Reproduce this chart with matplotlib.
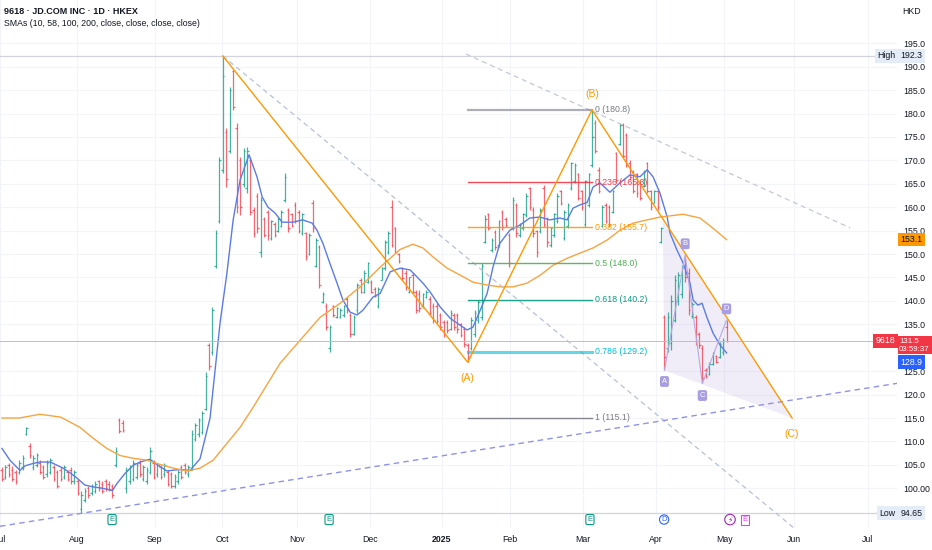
import numpy as np
import matplotlib.pyplot as plt
from matplotlib.transforms import blended_transform_factory
from matplotlib.patches import Polygon

plt.rcParams['font.family'] = ['Liberation Sans Narrow', 'Liberation Sans', 'DejaVu Sans']

# daily OHLC, 9618 JD.COM, Jul 2024 - May 2025 (one entry per trading day)
opens = [
    104.0, 102.5, 105.0, 104.0, 103.5, 103.5, 104.5, 111.5, 109.0, 104.5,
    105.0, 105.5, 104.5, 103.0, 103.5, 104.5, 103.5, 104.0, 102.5, 103.5,
    104.0, 101.5, 101.5, 95.5, 97.5, 100.0, 99.0, 99.5, 101.5, 101.0,
    101.5, 101.0, 100.5, 105.0, 114.5, 114.0, 100.0, 101.5, 102.0, 102.5,
    105.5, 102.0, 101.5, 103.5, 105.5, 103.0, 104.5, 103.0, 103.5, 103.0,
    100.5, 101.5, 104.5, 105.0, 103.0, 104.0, 110.5, 111.5, 112.0, 117.0,
    130.5, 129.0, 147.5, 157.0, 168.0, 176.0, 172.0, 189.0, 177.0, 170.0,
    165.0, 164.0, 170.0, 159.5, 162.5, 150.5, 157.5, 159.0, 153.5, 156.5,
    155.0, 156.0, 161.5, 159.5, 158.5, 160.5, 159.0, 154.5, 154.5, 150.0,
    161.0, 147.5, 151.5, 139.8, 139.0, 130.0, 139.0, 136.5, 136.5, 137.0,
    140.5, 137.0, 133.0, 138.0, 144.5, 142.0, 144.0, 144.0, 142.5, 139.0,
    144.5, 147.0, 150.5, 160.0, 155.5, 150.0, 147.0, 146.0, 142.0, 145.5,
    142.0, 141.5, 139.0, 140.8, 140.5, 139.0, 139.0, 137.0, 135.5, 135.5,
    134.0, 137.0, 137.0, 135.0, 134.0, 130.5, 130.0, 133.0, 136.0, 136.5,
    152.5, 158.5, 150.8, 154.8, 152.0, 159.0, 157.5, 154.0, 155.5, 160.5,
    154.0, 155.5, 158.3, 164.0, 159.5, 155.0, 155.0, 164.0, 157.5, 152.0,
    154.0, 157.0, 163.5, 153.5, 156.0, 164.0, 165.5, 167.0, 163.5, 156.5,
    160.5, 169.0, 178.0, 168.0, 156.0, 160.5, 160.0, 159.0, 171.5, 173.5,
    177.5, 175.5, 169.5, 167.5, 167.0, 165.5, 164.5, 169.5, 163.5, 161.0,
    163.5, 152.5, 136.5, 130.0, 131.0, 136.0, 140.0, 141.5, 149.0, 146.0,
    136.8, 136.5, 133.0, 130.0, 125.3, 124.5, 126.6, 128.2, 128.0, 129.0,
    134.5,
]
highs = [
    104.5, 105.0, 105.5, 104.8, 104.0, 106.0, 107.0, 113.0, 109.6, 107.0,
    107.5, 106.0, 105.0, 106.0, 106.5, 105.0, 104.0, 104.5, 105.0, 104.0,
    104.5, 104.0, 102.0, 99.5, 100.0, 100.5, 101.0, 101.5, 101.8, 101.5,
    102.0, 101.5, 101.0, 108.8, 115.0, 114.5, 104.5, 105.0, 106.0, 105.5,
    106.0, 105.0, 104.5, 108.8, 106.0, 105.5, 105.0, 105.5, 104.0, 103.5,
    103.0, 104.0, 105.0, 105.3, 105.0, 112.4, 113.9, 115.0, 116.5, 124.8,
    131.0, 138.7, 155.1, 170.7, 192.3, 177.0, 185.7, 189.3, 178.0, 170.7,
    172.6, 172.9, 170.7, 160.0, 163.0, 162.2, 157.9, 159.4, 157.3, 156.8,
    157.9, 159.4, 167.3, 159.8, 158.8, 161.1, 159.4, 158.8, 154.7, 154.5,
    161.5, 153.4, 151.9, 141.9, 139.5, 134.8, 139.1, 138.7, 138.5, 139.1,
    140.8, 137.4, 137.0, 143.8, 144.9, 146.6, 148.3, 144.4, 143.0, 143.0,
    147.2, 153.0, 155.0, 161.5, 155.8, 150.2, 147.2, 146.6, 145.1, 145.9,
    142.3, 142.3, 141.7, 142.3, 141.0, 139.5, 139.5, 137.4, 135.9, 135.9,
    138.0, 137.4, 137.4, 135.3, 134.4, 131.0, 136.5, 138.0, 140.2, 148.1,
    158.3, 158.8, 153.4, 155.1, 157.3, 159.4, 157.9, 154.5, 162.2, 160.9,
    156.6, 158.8, 163.0, 164.3, 160.0, 155.1, 159.8, 164.7, 157.9, 155.8,
    158.8, 163.0, 163.7, 159.4, 161.0, 169.7, 169.4, 167.3, 163.7, 165.8,
    167.3, 180.8, 178.6, 168.6, 160.5, 160.9, 160.5, 163.7, 171.8, 178.0,
    178.0, 175.9, 170.0, 168.0, 167.3, 165.8, 168.0, 169.7, 163.7, 163.7,
    163.7, 155.8, 137.0, 137.6, 141.2, 145.5, 146.2, 147.6, 149.8, 147.0,
    139.7, 137.0, 133.3, 130.6, 125.6, 126.9, 129.1, 128.4, 131.2, 132.0,
    135.9,
]
lows = [
    101.5, 102.0, 102.5, 101.5, 101.0, 103.0, 104.0, 111.3, 106.4, 104.0,
    104.5, 103.0, 102.0, 102.5, 103.0, 101.5, 100.0, 101.5, 102.0, 101.5,
    101.0, 101.0, 98.5, 94.65, 97.0, 98.0, 98.5, 99.0, 99.5, 99.0,
    99.5, 99.5, 98.0, 104.5, 111.7, 112.0, 99.0, 101.0, 101.5, 102.0,
    102.5, 101.5, 101.0, 103.0, 102.0, 102.5, 102.0, 102.5, 100.5, 100.0,
    100.0, 101.0, 102.0, 103.0, 102.5, 103.8, 110.0, 110.9, 111.5, 116.7,
    125.2, 128.4, 147.0, 156.6, 167.3, 164.3, 171.6, 180.8, 158.8, 158.3,
    164.3, 163.0, 158.3, 153.6, 154.5, 149.4, 153.6, 153.0, 153.0, 153.6,
    154.7, 155.8, 161.1, 154.7, 155.8, 156.6, 154.5, 154.1, 148.7, 149.8,
    154.7, 147.2, 142.7, 139.5, 133.8, 129.1, 136.5, 136.3, 136.3, 136.5,
    137.4, 132.3, 132.7, 137.4, 141.7, 141.7, 143.8, 141.7, 140.8, 138.5,
    144.4, 146.6, 150.0, 151.5, 150.2, 148.1, 144.4, 142.3, 141.7, 141.7,
    137.4, 137.6, 138.5, 140.6, 137.0, 135.3, 135.3, 133.8, 132.3, 133.1,
    133.8, 133.8, 133.1, 132.3, 130.1, 126.9, 129.5, 132.3, 135.3, 135.9,
    152.3, 155.1, 150.4, 150.9, 151.5, 155.1, 155.8, 147.2, 155.1, 153.6,
    153.6, 155.1, 157.9, 159.4, 153.6, 149.4, 154.5, 155.8, 151.5, 151.5,
    153.6, 156.6, 160.5, 153.0, 155.5, 163.7, 165.2, 161.5, 159.4, 155.8,
    160.0, 168.6, 171.6, 163.0, 155.8, 156.6, 155.8, 158.8, 165.2, 173.3,
    170.7, 168.6, 165.8, 163.0, 162.2, 161.5, 164.3, 163.0, 159.4, 160.9,
    159.4, 152.3, 125.2, 129.1, 129.5, 135.5, 139.1, 140.6, 144.0, 137.0,
    136.3, 130.6, 129.9, 122.4, 123.5, 124.1, 126.3, 126.7, 127.8, 128.4,
    131.2,
]
closes = [
    102.0, 104.5, 103.0, 102.0, 101.5, 105.5, 106.5, 112.8, 107.0, 106.5,
    107.0, 103.5, 102.5, 105.5, 106.0, 102.0, 100.5, 102.0, 104.5, 102.0,
    101.5, 103.5, 99.0, 98.5, 99.5, 98.5, 100.5, 101.0, 100.0, 99.5,
    100.0, 99.8, 98.5, 108.0, 112.2, 112.5, 104.0, 104.5, 105.5, 105.0,
    103.0, 104.5, 104.0, 108.0, 102.5, 105.0, 102.5, 105.0, 101.0, 100.5,
    102.5, 103.5, 102.5, 103.5, 104.5, 111.5, 113.5, 114.5, 116.0, 124.0,
    126.0, 138.0, 154.5, 170.0, 188.0, 166.0, 185.0, 181.5, 160.0, 160.0,
    172.0, 172.0, 159.0, 154.5, 155.5, 161.5, 154.0, 154.0, 157.0, 154.0,
    157.5, 159.0, 166.5, 155.5, 156.0, 157.0, 155.0, 158.5, 149.5, 154.0,
    155.5, 153.0, 143.5, 141.5, 134.5, 134.5, 137.0, 138.5, 138.0, 139.0,
    138.0, 133.0, 136.5, 143.5, 142.0, 146.0, 148.0, 142.0, 141.0, 142.5,
    147.0, 152.5, 154.5, 152.0, 150.5, 148.5, 144.8, 143.0, 145.0, 142.0,
    138.0, 138.5, 141.5, 142.0, 137.5, 136.0, 135.8, 134.5, 133.0, 133.8,
    137.5, 134.5, 134.0, 132.8, 130.8, 127.8, 136.0, 137.5, 139.8, 147.5,
    157.5, 155.5, 153.0, 151.5, 157.0, 155.8, 156.2, 148.0, 161.5, 154.5,
    156.2, 158.5, 162.5, 160.0, 154.5, 150.5, 159.5, 156.5, 152.5, 155.5,
    158.5, 162.5, 161.0, 159.0, 160.5, 169.5, 169.0, 162.0, 160.0, 165.5,
    167.0, 175.0, 172.0, 163.5, 160.0, 157.0, 156.5, 163.5, 165.8, 177.5,
    171.0, 169.0, 166.5, 163.5, 163.0, 162.0, 167.5, 163.5, 160.0, 163.5,
    160.0, 155.5, 128.0, 136.5, 140.0, 144.5, 145.5, 147.0, 145.0, 138.0,
    139.3, 131.5, 130.5, 123.5, 124.0, 126.5, 128.8, 127.0, 130.8, 131.5,
    131.5,
]

# moving averages (bar index, value)
sma10_idx = [0, 2.3, 5.2, 6.7, 9, 11, 14, 16, 17.7, 19.7, 21.7, 24, 26.4, 28.4, 30.4, 32,
             33.3, 35.7, 38, 40, 42.9, 45, 47.8, 51.6, 54.5, 57.4, 60.3, 63.2, 65.2, 67,
             69, 71.6, 73.9, 75.4, 77.1, 79.1, 81.2, 84.3, 87.2, 89.9, 91.3, 93, 95, 97.1,
             98.8, 100.9, 102.9, 104.6, 107.5, 109.6, 111, 112.5, 115.4, 118.3, 120.3, 122,
             124, 127, 129.9, 132.8, 134.8, 136.5, 138.6, 140.6, 142.3, 144.3, 147.2, 150.1,
             153, 155.9, 158.8, 161.7, 163.8, 165.5, 167.5, 169.6, 171.3, 173.3, 176.2,
             179.1, 182, 184.9, 187, 188.7, 190.7, 192.8, 193.6, 195.6, 197.4, 199.4,
             200.3, 201.7, 202.9, 204.3, 206.1, 208.1, 210]
sma10 = [108.5, 106.0, 103.8, 104.8, 105.3, 105.6, 105.6, 104.9, 104.3, 103.3, 102.2, 100.7,
         100.3, 100.1, 99.8, 99.5, 101.0, 103.2, 104.9, 105.6, 106.2, 105.0, 103.7, 104.0,
         103.8, 106.3, 115.0, 135.3, 146.0, 157.3, 165.8, 171.2, 166.5, 162.2, 160.0, 158.8,
         156.8, 156.8, 157.3, 156.6, 155.1, 152.3, 148.1, 143.8, 140.2, 137.6, 137.0, 138.0,
         140.8, 141.6, 143.8, 146.2, 147.0, 146.6, 145.1, 143.8, 142.0, 138.7, 136.3, 134.8,
         133.8, 134.4, 138.0, 141.6, 147.2, 152.3, 155.1, 156.2, 157.7, 157.9, 157.3, 157.7,
         157.3, 159.8, 160.5, 161.0, 164.3, 165.2, 163.2, 165.2, 166.9, 166.5, 168.0, 166.5,
         163.0, 157.9, 154.5, 150.9, 148.1, 143.8, 140.2, 139.1, 139.5, 136.5, 133.1, 130.6,
         128.9]
sma58_idx = [0, 5, 11, 17, 22.6, 26.4, 30.4, 34.2, 38, 42, 45.8, 49.6, 53.6, 57.4, 61.2,
             65.2, 69, 72.8, 76.2, 80.6, 86.4, 92.2, 98, 103.8, 109.6, 115.4, 119.1, 122,
             124.9, 129, 132.8, 136.5, 140.6, 144.3, 148.1, 152.2, 156, 159.7, 163.8, 167.5,
             171.3, 175.4, 179.1, 182.9, 187, 190.7, 197.4, 202.3, 206.1, 210]
sma58 = [115.0, 115.0, 115.8, 115.2, 113.0, 110.7, 108.5, 107.0, 106.4, 106.0, 105.1, 104.3,
         103.7, 104.3, 106.0, 109.6, 113.0, 117.3, 121.4, 126.7, 131.6, 136.5, 139.5, 143.0,
         147.2, 151.0, 152.1, 151.3, 149.4, 147.0, 145.5, 144.0, 143.4, 143.0, 143.0, 143.8,
         145.5, 147.6, 149.1, 150.2, 151.3, 153.0, 155.1, 156.6, 157.3, 157.9, 158.5, 157.7,
         155.5, 153.1]

month_labels = ['Jul', 'Aug', 'Sep', 'Oct', 'Nov', 'Dec', '2025', 'Feb', 'Mar', 'Apr',
                'May', 'Jun', 'Jul']
month_pos = [-0.5, 21.7, 44.3, 63.8, 85.5, 106.7, 127.5, 147.2, 168.4, 189.6, 209.3,
             229.6, 251.0]

# price scale labels (130.0 sits under the last-price tag)
price_ticks = [100, 105, 110, 115, 120, 125, 135, 140, 145, 150, 155, 160, 165, 170, 175,
               180, 185, 190, 195]
price_tick_labels = ['100.00', '105.0', '110.0', '115.0', '120.0', '125.0', '135.0', '140.0',
                     '145.0', '150.0', '155.0', '160.0', '165.0', '170.0', '175.0', '180.0',
                     '185.0', '190.0', '195.0']

# drawings
wave_idx = [64, 135, 171, 229]
wave_price = [192.3, 126.9, 180.8, 115.0]
fib_ratios = ['0', '0.236', '0.382', '0.5', '0.618', '0.786', '1']
fib_prices = [180.8, 165.3, 155.7, 148.0, 140.2, 129.2, 115.1]
abcd_idx = [192, 198, 203, 210]
abcd_price = [125.2, 149.8, 122.4, 135.9]
tri_idx = [191.5, 192, 229]
tri_price = [157.2, 125.2, 115.0]
event_idx = [31.9, 94.8, 170.4, 191.9, 211.0, 215.4]
event_kind = ['E', 'E', 'E', 'D', 'S', 'E2']

last_price = 131.5
high_price = 192.3
low_price = 94.65

up_col = '#089981'
dn_col = '#f23645'

fig = plt.figure(figsize=(9.32, 5.5), dpi=100)
ax = fig.add_axes([0, 22 / 550, 897 / 932, 528 / 550])
ax.set_xlim(-0.58, 259.4)
ax.set_ylim(91.52, 204.24)
for s in ax.spines.values():
    s.set_visible(False)

ax.set_yticks(price_ticks)
ax.set_yticklabels(price_tick_labels)
ax.yaxis.tick_right()
ax.tick_params(axis='y', length=0, pad=4.5, labelsize=6.3, colors='#131722')
ax.set_xticks(month_pos)
ax.set_xticklabels(month_labels)
ax.tick_params(axis='x', length=0, pad=5, labelsize=6.3, colors='#131722')
ax.get_xticklabels()[6].set_fontweight('bold')
ax.grid(color='#f3f4f8', lw=0.8)
ax.set_axisbelow(True)

# OHLC bars
o = np.array(opens); h = np.array(highs); l = np.array(lows); c = np.array(closes)
idx = np.arange(len(c))
cols = np.where(c >= o, up_col, dn_col)
ax.vlines(idx, l, h, colors=cols, lw=0.9, alpha=0.75)
ax.hlines(o, idx - 0.45, idx, colors=cols, lw=0.9, alpha=0.75)
ax.hlines(c, idx, idx + 0.45, colors=cols, lw=0.9, alpha=0.75)

# SMAs
ax.plot(sma10_idx, sma10, color='#5b7be6', lw=1.0)
ax.plot(sma58_idx, sma58, color='#f7a440', lw=1.0)

# reference lines
ax.axhline(high_price, color='#d1d4dc', lw=0.9)
ax.axhline(low_price, color='#d1d4dc', lw=0.9)
ax.axhline(last_price, color='#f7a6ae', lw=0.7)

# dashed trend lines
ax.plot([64, 234], [192.3, 88.8], color='#b8c0d8', lw=0.9, ls=(0, (4, 3)))
ax.plot([134.5, 245.8], [192.7, 155.6], color='#c4c8d4', lw=0.9, ls=(0, (4, 3)))
ax.axline((23, 94.65), (228.7, 118.8), color='#8f93e8', lw=1.0, ls=(0, (4, 3)))

# fib retracement
fib_cols = ['#787b86', '#f23645', '#ff9800', '#4caf50', '#089981', '#00bcd4', '#787b86']
fib_lw = [1.6, 1.0, 1.0, 1.0, 1.0, 2.2, 1.0]
for r, p, fc, lw in zip(fib_ratios, fib_prices, fib_cols, fib_lw):
    ax.plot([135, 171], [p, p], color=fc, lw=lw, alpha=0.6 if lw > 1.5 else 0.9)
    ax.text(172, p, f'{r} ({p:.1f})', color=fc, fontsize=6.3, va='center', ha='left')

# ABC wave
ax.plot(wave_idx, wave_price, color='#ff9800', lw=1.0)
ax.text(135, 123.6, '(A)', color='#ff9800', fontsize=7.5, ha='center', va='center')
ax.text(171, 184.2, '(B)', color='#ff9800', fontsize=7.5, ha='center', va='center')
ax.text(229, 111.6, '(C)', color='#ff9800', fontsize=7.5, ha='center', va='center')

# harmonic ABCD
ax.add_patch(Polygon(list(zip(tri_idx, tri_price)), closed=True, fc='#9575cd',
                     alpha=0.13, ec='none'))
ax.plot(abcd_idx, abcd_price, color='#b7a8e0', lw=0.8)
for lab, xi, yp, dy in zip('ABCD', abcd_idx, abcd_price, [-2.4, 2.4, -2.6, 2.4]):
    ax.text(xi, yp + dy, lab, color='white', fontsize=5.5, ha='center', va='center',
            bbox=dict(boxstyle='round,pad=0.25', fc='#a99de3', ec='none'))

# bottom event markers
tb = blended_transform_factory(ax.transData, ax.transAxes)
for xi, k in zip(event_idx, event_kind):
    if k == 'E':
        ax.text(xi, 0.016, 'E', transform=tb, color=up_col, fontsize=5.5, ha='center',
                va='center', bbox=dict(boxstyle='round,pad=0.2', fc='white', ec=up_col, lw=0.8))
    elif k == 'D':
        ax.text(xi, 0.016, 'D', transform=tb, color='#2962ff', fontsize=5.5, ha='center',
                va='center', bbox=dict(boxstyle='circle,pad=0.15', fc='white', ec='#2962ff', lw=0.8))
    elif k == 'S':
        ax.text(xi, 0.016, '\u26a1', transform=tb, color='#9c27b0', fontsize=5.5, ha='center',
                va='center', family=['DejaVu Sans'],
                bbox=dict(boxstyle='circle,pad=0.1', fc='white', ec='#9c27b0', lw=0.8))
    else:
        ax.text(xi, 0.016, 'E', transform=tb, color='#e040fb', fontsize=5.5, ha='center',
                va='center', bbox=dict(boxstyle='square,pad=0.2', fc='white', ec='#e040fb', lw=0.8))

# price scale tags
ty = blended_transform_factory(ax.transAxes, ax.transData)


def tag(x, y, text, fc, tc, fs=6.3, ha='left', ls=1.2, pad=0.28):
    ax.text(x, y, text, transform=ty, fontsize=fs, color=tc, ha=ha, va='center',
            clip_on=False, linespacing=ls, zorder=5,
            bbox=dict(boxstyle=f'square,pad={pad}', fc=fc, ec='none'))


tag(1.0035, high_price, '192.3', '#e3ecf7', '#131722')
tag(0.998, high_price, 'High', '#e3ecf7', '#131722', ha='right')
tag(1.0035, low_price, '94.65', '#e3ecf7', '#131722')
tag(0.998, low_price, 'Low', '#e3ecf7', '#131722', ha='right')
tag(1.0035, sma58[-1], f'{sma58[-1]:.1f}', '#ff9800', '#131722')
tag(1.0025, last_price - 1.0, f'{last_price:.1f}\n03:59:37', dn_col, 'white', fs=5.7,
    ls=1.1, pad=0.22)
tag(0.998, last_price, '9618', dn_col, 'white', ha='right')
tag(1.0035, sma10[-1] - 2.0, f'{sma10[-1]:.1f}', '#2962ff', 'white')

fig.text(4 / 932, 1 - 12 / 550, '9618 \u00b7 JD.COM INC \u00b7 1D \u00b7 HKEX', fontsize=6.5,
         color='#131722', fontweight='bold', va='center')
fig.text(4 / 932, 1 - 23 / 550, 'SMAs (10, 58, 100, 200, close, close, close, close)',
         fontsize=6.3, color='#131722', va='center')
fig.text(912 / 932, 1 - 12 / 550, 'HKD', fontsize=6.3, color='#131722', va='center',
         ha='center')

fig.savefig('out.png', dpi=100)
